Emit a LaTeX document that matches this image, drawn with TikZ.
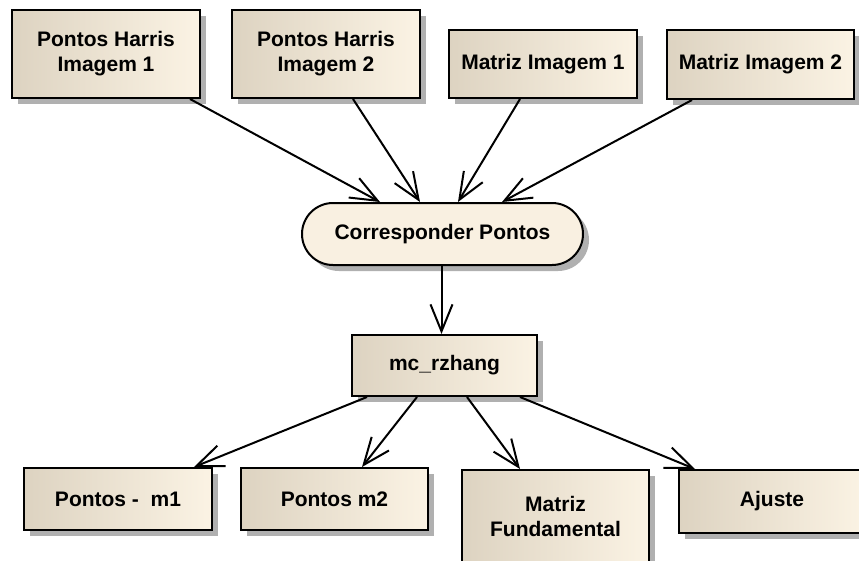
\documentclass[tikz,border=0pt]{standalone}
\usepackage{fontspec}
\setmainfont{Liberation Sans}
\usetikzlibrary{arrows.meta,shadows,shapes.misc}
\definecolor{shL}{HTML}{DDD3C1}
\definecolor{shR}{HTML}{FBF3E4}
\definecolor{cpfill}{HTML}{F9F0E1}
\definecolor{shadowgray}{HTML}{B0B0B0}
\tikzset{
  box/.style={draw=black, line width=2pt, shading=axis, left color=shL, middle color=shR, right color=shR, shading angle=90,
    drop shadow={shadow xshift=6pt, shadow yshift=-6pt, fill=shadowgray, opacity=1},
    font=\fontsize{21}{25}\selectfont\bfseries, align=center, inner sep=0pt},
  pill/.style={draw=black, line width=2pt, fill=cpfill, rounded rectangle,
    drop shadow={shadow xshift=6pt, shadow yshift=-6pt, fill=shadowgray, opacity=1},
    font=\fontsize{21}{25}\selectfont\bfseries, align=center, inner sep=0pt},
  arr/.style={line width=2pt, -{Straight Barb[length=27pt,width=22pt]}}
}
\begin{document}
\begin{tikzpicture}[x=1pt,y=-1pt]
\useasboundingbox (0,0) rectangle (859,560);
\clip (0,0) rectangle (859,560);
\fill[white] (0,0) rectangle (859,560);
\node[box, minimum width=188pt, minimum height=88pt] (h1) at (106,54) {Pontos Harris\\Imagem 1};
\node[box, minimum width=188pt, minimum height=88pt] (h2) at (326,54) {Pontos Harris\\Imagem 2};
\node[box, minimum width=188pt, minimum height=68pt] (m1) at (543,64) {Matriz Imagem 1};
\node[box, minimum width=187pt, minimum height=69pt] (m2) at (760.5,64.5) {Matriz Imagem 2};
\node[pill, minimum width=281pt, minimum height=62pt] (cp) at (442.5,234) {Corresponder Pontos};
\node[box, minimum width=185pt, minimum height=61pt] (mc) at (444.5,365.5) {mc\_rzhang};
\node[box, minimum width=188pt, minimum height=62pt] (p1) at (118,499) {Pontos -\ \ m1};
\node[box, minimum width=187pt, minimum height=62pt] (p2) at (334.5,499) {Pontos m2};
\node[box, minimum width=187pt, minimum height=92pt] (mf) at (555.5,516) {Matriz\\Fundamental};
\node[box, minimum width=186pt, minimum height=63pt] (aj) at (772,501.5) {Ajuste};

\draw[arr] ([xshift=84pt]h1.south) -- ([xshift=-62.5pt]cp.north);
\draw[arr] ([xshift=27pt]h2.south) -- ([xshift=-22.5pt]cp.north);
\draw[arr] ([xshift=-23pt]m1.south) -- ([xshift=15.5pt]cp.north);
\draw[arr] ([xshift=-68.5pt]m2.south) -- ([xshift=59.5pt]cp.north);
\draw[arr] ([xshift=-1pt]cp.south) -- ([xshift=-1pt]cp.south |- mc.north);
\draw[arr] ([xshift=-77.5pt]mc.south) -- ([xshift=76pt]p1.north);
\draw[arr] ([xshift=-27.5pt]mc.south) -- ([xshift=27.5pt]p2.north);
\draw[arr] ([xshift=22.5pt]mc.south) -- ([xshift=-35.5pt]mf.north);
\draw[arr] ([xshift=75.5pt]mc.south) -- ([xshift=-77pt]aj.north);
\end{tikzpicture}
\end{document}
